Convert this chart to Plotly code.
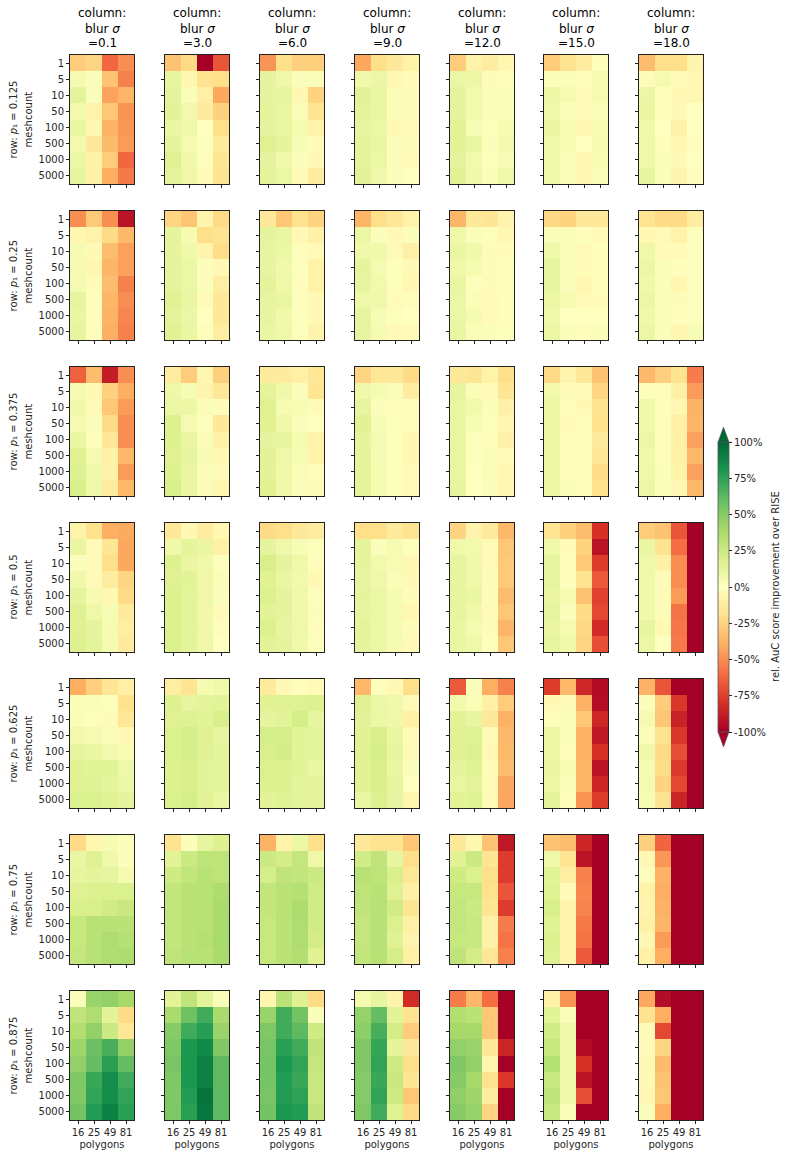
#!/usr/bin/env python3
"""Facet grid of relative AuC improvement over RISE (polygons vs meshcount)."""

import plotly.graph_objects as go

polygons = ["16", "25", "49", "81"]
meshcounts = ["1", "5", "10", "50", "100", "500", "1000", "5000"]
blur_sigmas = ["0.1", "3.0", "6.0", "9.0", "12.0", "15.0", "18.0"]
p1_values = ["0.125", "0.25", "0.375", "0.5", "0.625", "0.75", "0.875"]
cbar_ticks = [-100, -75, -50, -25, 0, 25, 50, 75, 100]
cbar_labels = ["-100%", "-75%", "-50%", "-25%", "0%", "25%", "50%", "75%", "100%"]

# one list per row of panels, each panel is meshcount x polygons, in percent
p1_0125 = [
    [[-28, -24, -62, -50], [6, 2, -32, -54], [14, 2, -43, -37], [7, -8, -30, -48],
     [11, -6, -38, -47], [7, -14, -35, -46], [10, -9, -28, -62], [12, -9, -40, -56]],
    [[-32, -22, -100, -68], [12, -6, -18, -20], [13, 3, -10, -42], [15, 7, -13, -26],
     [11, 8, 0, -20], [13, 6, 1, -13], [17, 9, 1, -16], [14, 9, -2, -18]],
    [[-48, -20, -27, -27], [13, 9, 2, 2], [13, 12, -5, -25], [14, 11, 3, -17],
     [13, 11, 5, -8], [17, 13, 4, -2], [13, 8, 2, -4], [14, 10, -2, -12]],
    [[-42, -20, -14, -8], [8, 10, -5, -2], [15, 11, 3, -2], [14, 11, 3, -2],
     [12, 10, -4, -3], [14, 11, 2, -2], [14, 10, 2, -3], [15, 9, 2, 0]],
    [[-28, -8, -12, -6], [10, 10, -2, 1], [13, 7, 2, 2], [13, 7, 2, 2],
     [15, 4, 1, 5], [15, 11, 2, 7], [14, 7, 1, 4], [16, 8, 2, 9]],
    [[-28, -18, -12, 1], [2, 3, 1, 6], [10, 6, -3, 6], [9, 2, -3, 3],
     [11, 4, -4, 4], [8, 4, 0, 6], [8, 3, -4, 4], [9, 2, -5, 3]],
    [[-34, -20, -20, -7], [-2, 6, -2, -5], [10, 1, -4, -5], [11, 1, -4, 0],
     [8, 0, -9, 0], [9, 1, -5, -1], [9, 2, -4, 0], [12, 2, -7, -1]],
]
p1_025 = [
    [[-50, -29, -50, -92], [-6, -8, -22, -36], [5, -4, -34, -44], [6, -6, -37, -44],
     [6, -2, -34, -54], [12, -1, -37, -50], [11, -1, -38, -52], [12, -1, -39, -54]],
    [[-24, -31, -7, -22], [13, 5, -20, -18], [13, 8, -7, -21], [13, 10, 2, -4],
     [13, 10, 2, -11], [16, 11, -3, -14], [14, 10, 0, -14], [16, 11, 1, -11]],
    [[-14, -30, -18, -25], [13, 11, -4, -9], [12, 10, 1, -3], [12, 8, 1, -8],
     [14, 9, -1, -8], [12, 11, 1, -4], [12, 8, 1, -4], [11, 9, 1, -7]],
    [[-37, -20, -15, -8], [10, 2, -4, 2], [8, 8, -3, -10], [13, 6, 1, -4],
     [12, 7, 1, -5], [9, 8, -2, -1], [12, 4, 1, 0], [12, 5, -3, -3]],
    [[-37, -14, -16, -7], [9, 3, 1, -5], [11, 8, -2, -2], [9, 5, -2, 1],
     [11, 1, -2, 1], [10, 3, -3, 1], [10, 5, -3, 1], [11, 3, 2, 1]],
    [[-23, -25, -14, -14], [3, 2, 1, -3], [9, 2, -3, 1], [12, 2, -2, 1],
     [12, 2, -5, 1], [10, 5, -3, -2], [9, 0, 0, 0], [10, 2, -1, 2]],
    [[-17, -22, -22, -12], [-5, -3, -8, 1], [9, -2, -3, 1], [10, 2, 1, 1],
     [9, 2, -6, 1], [10, 2, -2, 1], [9, 3, -1, 1], [10, 2, -6, 4]],
]
p1_0375 = [
    [[-64, -34, -88, -50], [6, -4, -26, -40], [8, -3, -30, -46], [6, 2, -22, -50],
     [11, 1, -15, -50], [17, 6, -9, -36], [18, 9, -9, -46], [20, 9, -12, -36]],
    [[-12, -28, -6, -27], [9, 4, -7, -15], [10, 10, 3, -2], [18, 6, 1, -14],
     [18, 11, 3, -9], [17, 12, 4, -4], [18, 11, 3, -3], [20, 11, 3, -6]],
    [[-13, -13, -10, -15], [14, 8, 2, -16], [17, 5, 4, -3], [16, 9, 2, 0],
     [13, 12, 5, -8], [15, 9, 4, -8], [15, 8, 3, -1], [16, 8, 2, -2]],
    [[-24, -15, -14, -22], [8, 5, 3, -12], [12, 2, -1, 1], [16, 4, 1, 1],
     [13, 6, 1, -5], [13, 5, 1, -5], [14, 5, 1, -3], [14, 5, 1, -3]],
    [[-14, -16, -8, -20], [12, 3, -3, -16], [11, 7, 2, -9], [11, 4, 1, -6],
     [11, 1, 1, -9], [11, 1, 3, -3], [11, 0, 3, -5], [12, 0, 2, -5]],
    [[-22, -7, -14, -32], [7, -2, -2, -24], [10, 1, -4, -18], [10, -3, 1, -19],
     [10, 1, -1, -13], [10, 1, -1, -14], [10, 1, -1, -21], [10, 2, -1, -19]],
    [[-36, -27, -18, -55], [1, 1, -9, -46], [8, 1, -5, -38], [8, 1, -10, -37],
     [10, 1, -10, -44], [8, 1, -9, -36], [9, 2, -8, -44], [10, 2, -5, -36]],
]
p1_05 = [
    [[-8, -19, -39, -41], [11, -3, -16, -42], [2, -3, -20, -42], [8, -3, -12, -24],
     [13, 5, -5, -22], [17, 9, 4, -13], [17, 13, 5, -11], [18, 14, 5, -13]],
    [[-14, -4, -12, -5], [8, 13, 11, -10], [18, 11, 8, 1], [17, 15, 9, 3],
     [18, 14, 9, 2], [18, 14, 8, -3], [18, 14, 9, 1], [19, 14, 8, 0]],
    [[-22, -20, -14, -12], [13, 9, 4, 1], [20, 13, 8, -1], [16, 11, 7, -4],
     [18, 13, 8, 1], [15, 13, 8, 2], [18, 12, 9, -1], [15, 13, 8, 1]],
    [[-20, -20, -13, -18], [13, 2, 5, 1], [13, 7, 4, -5], [12, 9, 3, -4],
     [13, 10, 5, -2], [12, 10, 5, -5], [14, 10, 5, -2], [13, 10, 5, -3]],
    [[-25, -7, -13, -36], [8, 7, -3, -30], [12, 8, -3, -29], [12, 8, -2, -29],
     [12, 11, -2, -34], [12, 8, -3, -30], [11, 6, -2, -37], [11, 9, 1, -30]],
    [[-17, -26, -34, -80], [9, -2, -25, -92], [12, 1, -29, -76], [12, 1, -18, -66],
     [11, 5, -32, -74], [12, 2, -22, -72], [11, 6, -23, -82], [12, 8, -24, -70]],
    [[-28, -32, -68, -100], [11, -18, -60, -100], [8, -9, -50, -100], [8, -2, -50, -100],
     [8, -2, -46, -100], [8, -2, -58, -100], [12, -4, -57, -100], [10, 0, -56, -100]],
]
p1_0625 = [
    [[-40, -27, -16, -10], [3, 3, 1, -19], [3, 1, -2, -15], [7, 6, 3, -4],
     [12, 11, 7, 4], [16, 15, 15, 9], [17, 16, 14, 10], [19, 19, 16, 13]],
    [[-11, -17, 5, 8], [18, 12, 14, 15], [17, 17, 15, 20], [19, 21, 17, 12],
     [19, 21, 17, 14], [18, 20, 15, 14], [18, 20, 15, 14], [19, 21, 15, 11]],
    [[-13, -4, -1, -3], [16, 17, 17, 18], [13, 15, 21, 12], [21, 21, 15, 14],
     [20, 22, 15, 14], [19, 18, 15, 11], [18, 18, 14, 13], [15, 17, 14, 13]],
    [[-36, 1, -4, -20], [17, 10, 8, -3], [15, 10, 9, -10], [16, 20, 11, -3],
     [16, 21, 12, -3], [16, 20, 11, 2], [16, 20, 12, 0], [11, 19, 12, -6]],
    [[-66, 2, -40, -54], [7, 3, -10, -28], [15, 12, -14, -38], [16, 17, -3, -36],
     [16, 18, -4, -35], [14, 16, -2, -34], [11, 14, -2, -42], [15, 16, -3, -42]],
    [[-76, -36, -84, -95], [-4, -2, -38, -94], [1, 2, -30, -84], [10, 2, -38, -90],
     [10, 1, -38, -80], [11, 4, -37, -92], [10, 2, -37, -85], [13, 1, -48, -76]],
    [[-38, -68, -100, -100], [2, -28, -78, -100], [6, -30, -86, -100], [3, -18, -78, -100],
     [8, -22, -70, -100], [5, -21, -77, -100], [6, -25, -72, -100], [4, -18, -85, -100]],
]
p1_075 = [
    [[-22, -6, 5, 2], [11, 17, 9, 2], [12, 14, 12, 6], [17, 18, 19, 19],
     [20, 20, 23, 26], [27, 33, 33, 32], [27, 33, 36, 34], [28, 33, 36, 37]],
    [[-18, 2, 12, 18], [15, 25, 31, 31], [24, 29, 33, 31], [29, 32, 33, 37],
     [29, 32, 33, 38], [29, 32, 33, 39], [29, 32, 34, 39], [30, 33, 33, 38]],
    [[-38, -8, 10, -20], [25, 22, 28, 9], [21, 30, 29, 25], [29, 32, 34, 23],
     [29, 32, 37, 23], [27, 32, 36, 23], [27, 32, 36, 22], [27, 32, 35, 16]],
    [[-14, -18, -18, -30], [23, 30, 12, -20], [33, 31, 20, -15], [31, 33, 17, -10],
     [30, 33, 23, -17], [28, 33, 19, -10], [28, 33, 16, -7], [29, 33, 21, -10]],
    [[-14, -6, -32, -90], [16, 25, -16, -76], [24, 19, -20, -76], [27, 27, -19, -68],
     [28, 25, -16, -76], [28, 26, -9, -55], [27, 26, -9, -58], [30, 22, -15, -54]],
    [[-32, -34, -85, -100], [8, -17, -92, -100], [15, -11, -54, -100], [16, -3, -52, -100],
     [20, -7, -53, -100], [16, -7, -56, -100], [18, -7, -58, -100], [17, -7, -66, -100]],
    [[-27, -63, -100, -100], [-4, -47, -100, -100], [1, -38, -100, -100], [-8, -39, -100, -100],
     [-7, -38, -100, -100], [-9, -37, -100, -100], [-5, -46, -100, -100], [-9, -40, -100, -100]],
]
p1_0875 = [
    [[2, 44, 46, 40], [30, 36, 15, -22], [35, 46, 25, -15], [42, 58, 68, 46],
     [46, 60, 76, 60], [52, 72, 84, 70], [52, 74, 84, 74], [56, 78, 90, 76]],
    [[15, 30, 14, 3], [38, 57, 70, 38], [50, 70, 77, 44], [52, 80, 86, 52],
     [54, 80, 90, 62], [52, 80, 90, 62], [52, 78, 95, 62], [52, 76, 94, 62]],
    [[-6, 32, 17, -22], [44, 70, 56, 2], [52, 70, 62, 24], [54, 76, 70, 30],
     [55, 80, 74, 28], [55, 78, 72, 26], [54, 78, 75, 26], [56, 80, 78, 30]],
    [[6, 12, -7, -82], [45, 60, 15, -18], [48, 68, 22, -28], [52, 73, 14, -14],
     [52, 74, 24, -20], [50, 72, 26, -16], [50, 74, 24, -30], [52, 70, 17, -22]],
    [[-55, -36, -60, -100], [35, 32, -30, -100], [40, 40, -30, -100], [46, 44, -15, -85],
     [52, 46, -6, -100], [50, 40, -18, -78], [47, 42, -12, -100], [50, 45, -24, -100]],
    [[-9, -48, -100, -100], [15, 3, -100, -100], [23, 8, -100, -100], [27, 8, -95, -100],
     [34, 8, -80, -100], [26, 8, -92, -100], [30, 9, -70, -100], [26, 2, -100, -100]],
    [[-42, -95, -100, -100], [-18, -40, -100, -100], [-3, -72, -100, -100], [-3, -24, -100, -100],
     [-4, -35, -100, -100], [-4, -32, -100, -100], [-5, -30, -100, -100], [2, -40, -100, -100]],
]
all_rows = [p1_0125, p1_025, p1_0375, p1_05, p1_0625, p1_075, p1_0875]

W, H = 788, 1158
FONT = "DejaVu Sans"
TEXT_COLOR = "#262626"
# inner plot area, plotly draws the frame line half a pixel outside of it
PANEL_LEFT = [70, 165, 260, 355, 450, 544, 639]
PANEL_TOP = [55, 211, 367, 523, 679, 835, 991]
PANEL_W, PANEL_H = 64, 129


def fx(px):
    return px / W


def fy(px):
    return 1 - px / H


fig = go.Figure()
annotations = []
layout_axes = {}

for r, row_panels in enumerate(all_rows):
    for c, z in enumerate(row_panels):
        n = r * 7 + c + 1
        suffix = "" if n == 1 else str(n)
        fig.add_trace(go.Heatmap(
            x=polygons, y=meshcounts, z=z, coloraxis="coloraxis",
            xaxis=f"x{suffix}", yaxis=f"y{suffix}",
            hovertemplate="polygons %{x}<br>meshcount %{y}<br>%{z}%<extra></extra>",
        ))
        left, top = PANEL_LEFT[c], PANEL_TOP[r]
        axis_common = dict(
            type="category", showline=True, mirror=True, linecolor="#222222", linewidth=1,
            ticks="outside", ticklen=3, tickwidth=1, tickcolor="#222222",
            showgrid=False, zeroline=False, tickfont=dict(family=FONT, size=10, color=TEXT_COLOR),
        )
        xaxis = dict(
            axis_common, anchor=f"y{suffix}",
            domain=[fx(left), fx(left + PANEL_W)], showticklabels=r == 6,
        )
        if r == 6:
            xaxis["title"] = dict(
                text="polygons", standoff=3, font=dict(family=FONT, size=10, color=TEXT_COLOR))
        yaxis = dict(
            axis_common, anchor=f"x{suffix}", autorange="reversed",
            domain=[fy(top + PANEL_H), fy(top)], showticklabels=c == 0,
        )
        layout_axes[f"xaxis{suffix}"] = xaxis
        layout_axes[f"yaxis{suffix}"] = yaxis

# title lines are placed one by one, the reference spacing is not even
for c, sigma in enumerate(blur_sigmas):
    lines = ["column:", "blur <i>σ</i>", f"={sigma}"]
    for line, line_y in zip(lines, [13, 29, 43]):
        annotations.append(dict(
            text=line, xref="paper", yref="paper",
            x=fx(PANEL_LEFT[c] + PANEL_W / 2), y=fy(line_y), xanchor="center", yanchor="middle",
            showarrow=False, font=dict(family=FONT, size=12, color="black"),
        ))

for r, p1 in enumerate(p1_values):
    mid = PANEL_TOP[r] + PANEL_H / 2
    annotations.append(dict(
        text=f"row: <i>p</i>₁ = {p1}", xref="paper", yref="paper",
        x=fx(13), y=fy(mid), xanchor="center", yanchor="middle", textangle=-90,
        showarrow=False, font=dict(family=FONT, size=10, color=TEXT_COLOR),
    ))
    annotations.append(dict(
        text="meshcount", xref="paper", yref="paper",
        x=fx(28), y=fy(mid), xanchor="center", yanchor="middle", textangle=-90,
        showarrow=False, font=dict(family=FONT, size=10, color=TEXT_COLOR),
    ))

annotations.append(dict(
    text="rel. AuC score improvement over RISE", xref="paper", yref="paper",
    x=fx(775), y=fy(587), xanchor="center", yanchor="middle", textangle=-90,
    showarrow=False, font=dict(family=FONT, size=10, color=TEXT_COLOR),
))

# plotly has no colorbar extend, so the two end arrows are shapes
cb_left, cb_right, cb_top, cb_bottom, arrow = 718, 729, 442, 732, 15
cb_mid = (cb_left + cb_right) / 2
arrows = [
    dict(type="path", xref="paper", yref="paper", fillcolor="#006837",
         line=dict(color="#555555", width=0.5),
         path=f"M {fx(cb_left)},{fy(cb_top)} L {fx(cb_mid)},{fy(cb_top - arrow)} "
              f"L {fx(cb_right)},{fy(cb_top)} Z"),
    dict(type="path", xref="paper", yref="paper", fillcolor="#a50026",
         line=dict(color="#555555", width=0.5),
         path=f"M {fx(cb_left)},{fy(cb_bottom)} L {fx(cb_mid)},{fy(cb_bottom + arrow)} "
              f"L {fx(cb_right)},{fy(cb_bottom)} Z"),
]

fig.update_layout(
    width=W, height=H, margin=dict(l=0, r=0, t=0, b=0),
    paper_bgcolor="white", plot_bgcolor="white",
    font=dict(family=FONT, size=10),
    annotations=annotations, shapes=arrows,
    coloraxis=dict(
        colorscale="RdYlGn", cmin=-100, cmax=100,
        colorbar=dict(
            x=fx(cb_left), xanchor="left", xpad=0, ypad=0,
            y=fy((cb_top + cb_bottom) / 2), yanchor="middle",
            thickness=cb_right - cb_left, thicknessmode="pixels",
            len=cb_bottom - cb_top, lenmode="pixels",
            outlinecolor="#555555", outlinewidth=0.8,
            tickmode="array", tickvals=cbar_ticks, ticktext=cbar_labels,
            ticks="outside", ticklen=3, tickcolor="#222222",
            tickfont=dict(family=FONT, size=10, color=TEXT_COLOR),
        ),
    ),
    **layout_axes,
)

# the browser's default body margin would push the fixed-size figure off the page
fig.write_html("out.html", config={"displayModeBar": False},
               post_script="document.body.style.margin = '0';")
